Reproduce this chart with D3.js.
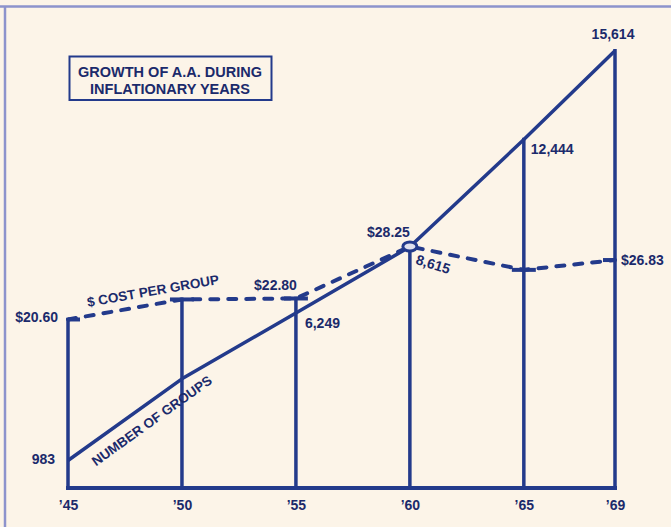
<!DOCTYPE html>
<html>
<head>
<meta charset="utf-8">
<script src="https://cdn.jsdelivr.net/npm/d3@7"></script>
<style>
  html, body { margin: 0; padding: 0; background: #fcf4e8; }
  svg { display: block; }
  text { font-family: "Liberation Sans", Arial, Helvetica, sans-serif; font-weight: bold; fill: #1b2a6b; }
</style>
</head>
<body>
<svg id="chart" width="671" height="527"></svg>
<script>
// ---- data ----
const years = [1945, 1950, 1955, 1960, 1965, 1969];
const yearLabels = ["\u201945", "\u201950", "\u201955", "\u201960", "\u201965", "\u201969"];
const groups = [983, 3900, 6249, 8615, 12444, 15614];
const groupLabels = ["983", null, "6,249", "8,615", "12,444", "15,614"];
const cost = [20.60, 22.70, 22.80, 28.25, 25.80, 26.83];
const costLabels = ["$20.60", null, "$22.80", "$28.25", null, "$26.83"];
const titleLines = ["GROWTH OF A.A. DURING", "INFLATIONARY YEARS"];
const costSeriesName = "$ COST PER GROUP";
const groupSeriesName = "NUMBER OF GROUPS";

// ---- setup ----
const W = 671, H = 527;
const ink = "#233a8b";
const svg = d3.select("#chart");
svg.append("rect").attr("width", W).attr("height", H).attr("fill", "#fcf4e8");

// frame
svg.append("line").attr("x1", 0).attr("x2", W).attr("y1", 6.5).attr("y2", 6.5)
  .attr("stroke", "#8d93cc").attr("stroke-width", 2.5);
svg.append("line").attr("x1", 5).attr("x2", 5).attr("y1", 6).attr("y2", H)
  .attr("stroke", "#8d93cc").attr("stroke-width", 2.5);

// scales
const x = d3.scaleLinear().domain([1945, 1969]).range([68, 615]);
const yG = d3.scaleLinear().domain([0, 16000]).range([488, 40]);
const yC = d3.scaleLinear().domain([20, 30]).range([325.2, 229.8]);

const data = years.map((yr, i) => ({
  yr, g: groups[i], c: cost[i], gl: groupLabels[i], cl: costLabels[i], tl: yearLabels[i], i
}));

// bottom axis (labels only)
const axis = d3.axisBottom(x).tickValues(years).tickFormat((d, i) => yearLabels[i]).tickSize(0).tickPadding(12);
const ax = svg.append("g").attr("transform", `translate(0,${yG(0)})`).call(axis);
ax.select(".domain").remove();
ax.selectAll("text").style("font-size", "14px").style("font-family", "'Liberation Sans', Arial, sans-serif")
  .style("font-weight", "bold").attr("fill", "#1b2a6b");

// verticals
svg.append("g").selectAll("line").data(data).join("line")
  .attr("x1", d => x(d.yr)).attr("x2", d => x(d.yr))
  .attr("y1", yG(0)).attr("y2", d => Math.min(yG(d.g), yC(d.c)))
  .attr("stroke", ink).attr("stroke-width", 3.5).attr("stroke-linecap", "square");

// baseline
svg.append("line").attr("x1", x(1945)).attr("x2", x(1969)).attr("y1", yG(0)).attr("y2", yG(0))
  .attr("stroke", ink).attr("stroke-width", 4).attr("stroke-linecap", "square");

// groups line
svg.append("path").datum(data)
  .attr("d", d3.line().x(d => x(d.yr)).y(d => yG(d.g)))
  .attr("fill", "none").attr("stroke", ink).attr("stroke-width", 3.5).attr("stroke-linejoin", "round");

// cost dashed line
svg.append("path").datum(data)
  .attr("d", d3.line().x(d => x(d.yr)).y(d => yC(d.c)))
  .attr("fill", "none").attr("stroke", ink).attr("stroke-width", 4)
  .attr("stroke-dasharray", "8,10").attr("stroke-linecap", "round");

// caps at cost points
svg.append("g").selectAll("line").data(data.filter(d => d.yr !== 1960)).join("line")
  .attr("x1", d => d.i === 0 ? x(d.yr) : x(d.yr) - 12)
  .attr("x2", d => d.i === years.length - 1 ? x(d.yr) : x(d.yr) + 12)
  .attr("y1", d => yC(d.c)).attr("y2", d => yC(d.c))
  .attr("stroke", ink).attr("stroke-width", 4);

// ring at 1960 crossing
svg.append("ellipse").attr("cx", x(1960)).attr("cy", yC(28.25)).attr("rx", 7).attr("ry", 4.5)
  .attr("fill", "#dfe0ee").attr("stroke", ink).attr("stroke-width", 3);

// group value labels
const gPos = {
  0: { dx: -13, dy: 4, anchor: "end", rot: 0 },
  2: { dx: 9, dy: 15, anchor: "start", rot: 0 },
  3: { dx: 5, dy: 17, anchor: "start", rot: 17 },
  4: { dx: 7, dy: 14, anchor: "start", rot: 0 },
  5: { dx: -2, dy: -12, anchor: "middle", rot: 0 }
};
svg.append("g").selectAll("text").data(data.filter(d => d.gl)).join("text")
  .attr("transform", d => {
    const p = gPos[d.i];
    return `translate(${x(d.yr) + p.dx},${yG(d.g) + p.dy}) rotate(${p.rot})`;
  })
  .attr("text-anchor", d => gPos[d.i].anchor)
  .style("font-size", "14px")
  .text(d => d.gl);

// cost value labels
const cPos = {
  0: { dx: -10, dy: 3, anchor: "end" },
  2: { dx: 1, dy: -8, anchor: "end" },
  3: { dx: 0, dy: -9, anchor: "end" },
  5: { dx: 6, dy: 5, anchor: "start" }
};
svg.append("g").selectAll("text").data(data.filter(d => d.cl)).join("text")
  .attr("x", d => x(d.yr) + cPos[d.i].dx)
  .attr("y", d => yC(d.c) + cPos[d.i].dy)
  .attr("text-anchor", d => cPos[d.i].anchor)
  .style("font-size", "14px")
  .text(d => d.cl);

// series names along the lines
function alongLabel(text, yScale, v0, v1, startX, offset) {
  const x0 = x(1945), y0 = yScale(v0), x1 = x(1950), y1 = yScale(v1);
  const ang = Math.atan2(y1 - y0, x1 - x0) * 180 / Math.PI;
  const ly = y0 + (startX - x0) * (y1 - y0) / (x1 - x0);
  svg.append("text")
    .attr("transform", `translate(${startX},${ly + offset}) rotate(${ang})`)
    .style("font-size", "13.5px")
    .text(text);
}
alongLabel(costSeriesName, yC, cost[0], cost[1], 88, -9);
alongLabel(groupSeriesName, yG, groups[0], groups[1], 96, 26);

// title box
svg.append("rect").attr("x", 69.5).attr("y", 56.5).attr("width", 202).attr("height", 43.5)
  .attr("fill", "none").attr("stroke", ink).attr("stroke-width", 2);
svg.append("g").selectAll("text").data(titleLines).join("text")
  .attr("x", 170).attr("y", (d, i) => 77 + i * 16.5)
  .attr("text-anchor", "middle")
  .style("font-size", "14.5px")
  .text(d => d);
</script>
</body>
</html>
